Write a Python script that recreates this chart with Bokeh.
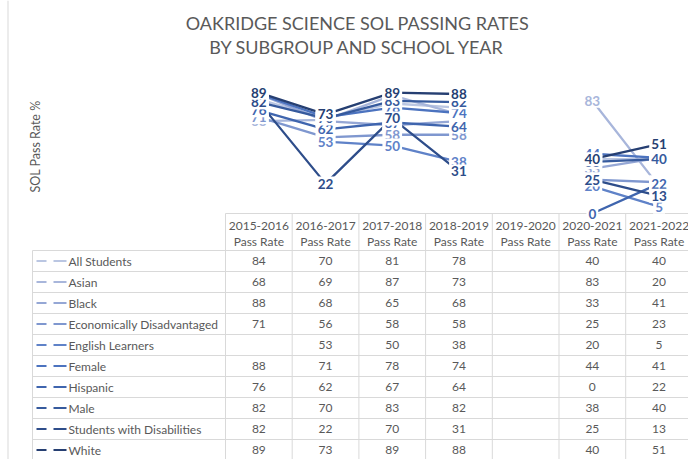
import math
from bokeh.plotting import figure
from bokeh.models import Range1d, Label, ColumnDataSource
from bokeh.core.properties import value
from bokeh.embed import file_html
from bokeh.resources import INLINE

# ---------------- data ----------------
years = ["2015-2016", "2016-2017", "2017-2018", "2018-2019", "2019-2020", "2020-2021", "2021-2022"]
groups = ["All Students", "Asian", "Black", "Economically Disadvantaged", "English Learners",
          "Female", "Hispanic", "Male", "Students with Disabilities", "White"]
N = None
all_students = [84, 70, 81, 78, N, 40, 40]
asian = [68, 69, 87, 73, N, 83, 20]
black = [88, 68, 65, 68, N, 33, 41]
econ_dis = [71, 56, 58, 58, N, 25, 23]
english_learners = [N, 53, 50, 38, N, 20, 5]
female = [88, 71, 78, 74, N, 44, 41]
hispanic = [76, 62, 67, 64, N, 0, 22]
male = [82, 70, 83, 82, N, 38, 40]
swd = [82, 22, 70, 31, N, 25, 13]
white = [89, 73, 89, 88, N, 40, 51]
series = [all_students, asian, black, econ_dis, english_learners,
          female, hispanic, male, swd, white]
colors = ["#BAC6E2", "#A8B6DB", "#95A7D5", "#7F97CF", "#5F82C8",
          "#4C73BF", "#3F65AE", "#365A9D", "#2E4D8A", "#263F72"]

title1 = "OAKRIDGE SCIENCE SOL PASSING RATES"
title2 = "BY SUBGROUP AND SCHOOL YEAR"
y_label = "SOL Pass Rate %"

# ---------------- geometry helpers (page px -> data units) ----------------
OFF = 0          # page offset of the figure
W, H = 688, 459
COLW = 66.7      # column width in px
COL_LEFT = 225.0
COL0 = COL_LEFT + COLW / 2   # page x of first column centre
Y0 = 213.0       # page y of value 0
K = 1.358        # px per percentage point


def dx(px):
    return (px - COL0) / COLW


def dy(py):
    return (Y0 - py) / K


p = figure(width=W, height=H, output_backend="svg", toolbar_location=None,
           x_range=Range1d(dx(OFF), dx(OFF + W)), y_range=Range1d(dy(OFF + H), dy(OFF)),
           min_border=0)
p.axis.visible = False
p.grid.visible = False
p.outline_line_color = None
p.background_fill_color = "white"

FONT = "Lato"
GREY = "#595959"
BORDER = "#D9D9D9"

# chart frame left edge
p.segment(x0=[dx(7.5)], y0=[dy(0)], x1=[dx(7.5)], y1=[dy(470)], line_color=BORDER, line_width=1)

# ---------------- table ----------------
TAB_TOP = 213.0
HDR_BOT = 250.0
ROWH = 21.0
LEFT = 32.0
RIGHT = 700.0
BOTTOM = 480.0

xs0, ys0, xs1, ys1 = [], [], [], []
xs0.append(dx(COL_LEFT)); ys0.append(dy(TAB_TOP)); xs1.append(dx(RIGHT)); ys1.append(dy(TAB_TOP))
for i in range(len(groups) + 1):
    yy = HDR_BOT + ROWH * i
    xs0.append(dx(LEFT)); ys0.append(dy(yy)); xs1.append(dx(RIGHT)); ys1.append(dy(yy))
for j in range(len(years) + 1):
    xx = COL_LEFT + COLW * j
    xs0.append(dx(xx)); ys0.append(dy(TAB_TOP)); xs1.append(dx(xx)); ys1.append(dy(BOTTOM))
xs0.append(dx(LEFT)); ys0.append(dy(HDR_BOT)); xs1.append(dx(LEFT)); ys1.append(dy(BOTTOM))
p.segment(x0=xs0, y0=ys0, x1=xs1, y1=ys1, line_color=BORDER, line_width=1)

# header texts
hx = list(range(len(years)))
p.text(x=hx, y=[dy(225)] * len(years), text=years, text_align="center", text_baseline="middle",
       text_font=value(FONT), text_font_size="12px", text_color=GREY)
p.text(x=hx, y=[dy(241)] * len(years), text=["Pass Rate"] * len(years), text_align="center",
       text_baseline="middle", text_font=value(FONT), text_font_size="12px", text_color=GREY)

# row names, legend keys, cell values
for i, (g, vals, c) in enumerate(zip(groups, series, colors)):
    cy = HDR_BOT + ROWH * (i + 0.5)
    p.segment(x0=[dx(36), dx(53)], y0=[dy(cy)] * 2, x1=[dx(46), dx(66)], y1=[dy(cy)] * 2,
              line_color=c, line_width=2.2)
    p.text(x=[dx(68)], y=[dy(cy)], text=[g], text_align="left", text_baseline="middle",
           text_font=value(FONT), text_font_size="12px", text_color=GREY)
    cx = [j for j, v in enumerate(vals) if v is not None]
    ct = [str(v) for v in vals if v is not None]
    p.text(x=cx, y=[dy(cy)] * len(cx), text=ct, text_align="center", text_baseline="middle",
           text_font=value(FONT), text_font_size="12px", text_color=GREY)

# ---------------- lines ----------------
for vals, c in zip(series, colors):
    yv = [float("nan") if v is None else v for v in vals]
    p.line(x=list(range(len(years))), y=yv, line_color=c, line_width=2.3)

# ---------------- data labels ----------------
for vals, c in zip(series, colors):
    cx = [j for j, v in enumerate(vals) if v is not None]
    cv = [v for v in vals if v is not None]
    src = ColumnDataSource(dict(x=cx, y=cv, t=[str(v) for v in cv]))
    p.text(x="x", y="y", text="t", source=src, text_align="center", text_baseline="middle",
           text_font=value(FONT), text_font_size="13.5px", text_font_style="bold", text_color=c,
           background_fill_color="white", padding=2)

# ---------------- titles ----------------
p.add_layout(Label(x=357 - OFF, y=H - (22 - OFF), x_units="screen", y_units="screen", text=title1,
                   text_align="center", text_baseline="middle", text_font=FONT,
                   text_font_size="18px", text_color=GREY))
p.add_layout(Label(x=357 - OFF, y=H - (46 - OFF), x_units="screen", y_units="screen", text=title2,
                   text_align="center", text_baseline="middle", text_font=FONT,
                   text_font_size="18px", text_color=GREY))
p.add_layout(Label(x=35 - OFF, y=H - (146 - OFF), x_units="screen", y_units="screen", text=y_label,
                   angle=math.pi / 2, text_align="center", text_baseline="middle", text_font=FONT,
                   text_font_size="12.5px", text_color=GREY))

open("out.html", "w").write(file_html(p, INLINE))
